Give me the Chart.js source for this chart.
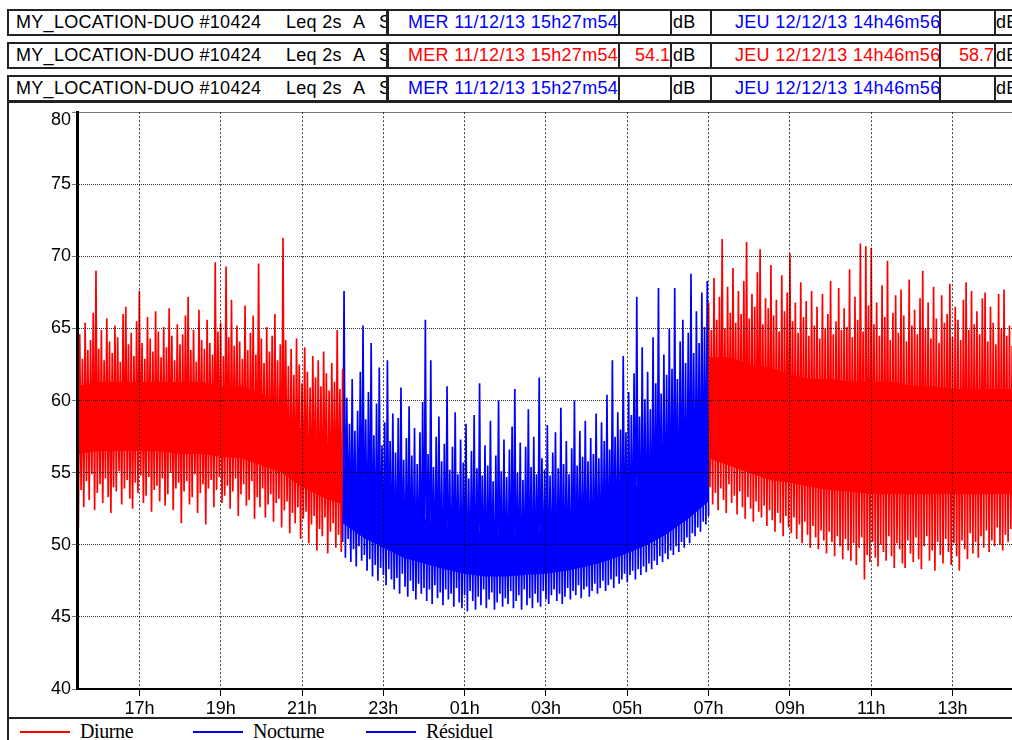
<!DOCTYPE html>
<html><head><meta charset="utf-8">
<script src="https://cdn.jsdelivr.net/npm/chart.js@4.4.1/dist/chart.umd.min.js"></script>
<style>
html,body{margin:0;padding:0;width:1012px;height:740px;overflow:hidden;background:#fff;}
#wrap{position:relative;width:1012px;height:740px;overflow:hidden;font-family:"Liberation Sans",Arial,sans-serif;color:#000;}
.row{position:absolute;left:7px;width:1030px;height:23px;border:2px solid #222;background:#fff;}
.cell{position:absolute;top:0;height:23px;overflow:hidden;white-space:nowrap;font-size:18px;line-height:23px;letter-spacing:0.3px;}
.cell span{position:absolute;top:0;}
.sep{position:absolute;top:0;height:23px;width:2px;background:#222;}
.blue{color:#0000ff}.red{color:#ff0000}
.val{text-align:right;letter-spacing:0;}
#frameL{position:absolute;left:7px;top:101px;width:2px;height:640px;background:#222;}
#frameT{position:absolute;left:7px;top:101px;width:1010px;height:2px;background:#222;}
#legend{position:absolute;left:7px;top:717px;width:1010px;height:25px;border-top:2px solid #222;}
.lg-line{position:absolute;top:731px;height:2px;width:50px;}
.lg-txt{position:absolute;top:721px;font-family:"Liberation Serif","Times New Roman",serif;font-size:20px;line-height:20px;letter-spacing:-0.4px;white-space:nowrap;}
canvas{position:absolute;left:0;top:95px;}
</style></head>
<body><div id="wrap">
<div id="hdr"></div>
<div id="frameL"></div><div id="frameT"></div>
<div id="legend"></div>
<div id="lgItems"></div>
<canvas id="c" width="1040" height="625"></canvas>
</div>
<script>
// ---------- data ----------
const stationName = "MY_LOCATION-DUO #10424";
const indicator = ["Leq 2s", "A", "S"];
const startLabel = "MER 11/12/13 15h27m54";
const endLabel = "JEU 12/12/13 14h46m56";
const headerRows = ["blue", "red", "blue"];
const headerValues = [["", ""], ["54.1", "58.7"], ["", ""]];
const seriesNames = ["Diurne", "Nocturne", "Résiduel"];
const seriesColors = ["#ff0000", "#0000ff", "#0000ff"];

const tStart = 15.465;    // 15h27m54
const tEnd = 38.782;      // 14h46m56 next day
const sampleStep = 2 / 60; // hours between plotted samples
const soirStart = 15.465, nuitStart = 22.0, matinStart = 31.0;

const xTickHours = [17, 19, 21, 23, 25, 27, 29, 31, 33, 35, 37];
const xTickLabels = ["17h", "19h", "21h", "23h", "01h", "03h", "05h", "07h", "09h", "11h", "13h"];
const yTickValues = [40, 45, 50, 55, 60, 65, 70, 75, 80];

// Diurne, evening: peaks and troughs (dB), alternating samples
const soirMax = [63.8,64.6,62.9,65.4,63.5,64.2,66.1,69.0,63.6,64.9, 62.8,65.7,64.1,63.3,65.2,64.4,62.7,66.0,66.5,63.9,
 64.7,63.1,65.5,67.6,64.0,62.9,65.8,64.3,63.4,66.2, 64.8,63.0,65.1,63.7,66.4,64.5,62.8,65.3,63.9,64.6,
 65.9,67.2,63.5,64.9,62.7,66.3,64.2,63.6,65.6,64.0, 63.2,69.6,64.8,65.4,63.1,69.3,64.4,67.0,63.8,65.2,
 64.1,62.9,66.6,63.5,64.7,65.9,63.2,69.5,64.3,62.6, 65.1,63.4,64.5,66.0,62.8,63.9,71.3,64.2,62.4,63.6,
 61.8,64.3,62.5,61.2,63.7,62.0,60.9,63.1,61.6,62.8, 61.0,63.4,61.9,60.7,62.6,61.3,64.9,60.8,62.2];
const soirMin = [51.2,53.8,52.6,54.4,53.1,54.9,52.4,53.6,54.2,52.9, 54.6,53.3,52.2,54.0,53.7,55.1,52.8,53.9,54.5,53.2,
 52.5,54.3,53.6,54.8,52.9,53.4,54.7,52.3,53.8,54.1, 53.0,54.6,52.7,53.5,55.0,52.4,53.9,54.3,51.5,53.7,
 54.4,52.8,53.3,54.9,52.2,53.6,54.2,51.4,53.9,54.5, 52.6,53.8,54.7,52.9,53.4,54.1,52.5,53.7,54.6,52.0,
 53.5,54.2,52.7,53.1,54.4,51.8,53.3,52.6,53.9,51.9, 52.8,53.5,51.6,52.9,53.2,51.2,52.4,53.0,50.8,52.2,
 51.5,52.6,50.4,51.8,52.3,50.1,51.4,52.0,49.6,51.1, 50.6,51.9,49.4,50.9,51.5,49.8,50.7,49.5];
// Nocturne: troughs and peaks (dB), alternating samples
const nuitMin = [50.2,49.1,50.4,48.8,49.7,48.5,49.9,48.9,49.3,48.2, 49.0,47.8,48.6,47.5,48.4,47.9,47.2,48.3,47.6,46.9,
 47.7,46.6,48.0,47.1,46.4,47.5,46.8,46.2,47.3,46.6, 47.0,46.1,46.9,45.9,47.2,46.3,46.7,45.8,46.9,46.2,
 46.6,45.7,47.0,46.0,45.6,46.5,45.4,46.8,46.1,45.5, 46.4,45.8,46.9,45.6,46.2,46.7,45.5,46.0,46.6,45.7,
 46.3,45.9,46.8,45.6,46.1,46.5,45.5,46.9,45.8,46.3, 45.6,46.6,46.0,45.7,46.8,46.2,45.9,46.5,46.9,46.1,
 46.6,45.9,46.4,47.0,46.2,46.8,46.5,47.2,46.3,46.9, 47.1,46.4,46.8,47.3,46.6,47.0,47.5,46.8,47.2,47.6,
 47.0,47.8,47.3,47.6,48.0,47.4,47.9,48.2,47.6,48.3, 47.9,48.5,48.1,48.7,48.3,48.9,48.6,49.2,48.8,49.4,
 49.0,49.6,49.3,49.9,49.5,50.2,49.8,50.5,50.1,50.8, 50.6,51.2,50.9,51.6,51.4,52.0];
const nuitMax = [67.6,60.2,58.4,61.5,57.9,59.3,62.0,65.2,58.7,60.6, 64.0,57.6,59.8,62.3,56.9,58.5,62.8,57.2,59.1,56.4,
 58.8,60.9,55.9,57.4,59.6,56.2,58.1,55.6,57.8,59.9, 65.6,56.3,62.8,55.4,57.5,58.9,55.8,57.0,61.0,55.2,
 56.8,59.2,54.9,57.3,55.7,58.4,54.6,56.5,59.0,55.3, 61.2,54.8,56.9,55.5,58.6,54.4,56.2,60.0,55.1,57.3,
 54.7,56.6,58.2,60.8,55.0,57.1,54.5,56.8,59.4,55.4, 57.5,54.9,61.6,56.0,55.2,58.3,54.8,56.4,57.8,55.3,
 59.5,55.6,57.2,54.9,56.7,60.0,55.5,57.9,56.1,58.6, 55.8,57.4,56.3,59.1,56.0,58.5,57.2,60.4,56.6,62.8,
 57.5,59.2,58.0,63.1,57.8,60.6,59.0,61.9,67.2,58.9, 63.7,60.1,62.0,59.4,64.4,61.2,67.8,60.5,63.2,61.8,
 65.0,62.2,67.8,61.5,64.1,65.6,62.6,64.7,68.8,63.3, 66.2,64.0,67.5,65.1,68.3];
// Diurne, morning: peaks and troughs (dB), alternating samples
const matinMax = [66.8,64.9,68.5,65.6,67.2,71.2,65.0,67.9,66.1,69.2, 65.4,67.6,66.0,68.3,71.0,65.7,67.4,66.5,68.9,70.5,
 65.3,67.1,66.4,69.4,65.9,67.0,64.8,68.7,66.2,67.5, 70.2,65.5,66.8,64.7,68.2,65.8,66.9,64.5,67.6,65.2,
 66.5,64.3,67.4,65.0,66.0,68.3,64.6,65.5,67.8,64.9, 66.4,65.1,69.1,64.4,67.2,65.6,70.9,64.8,70.7,66.6,
 70.6,65.3,66.8,64.5,68.0,65.8,69.7,64.2,66.1,67.3, 64.7,67.7,65.9,64.1,68.4,65.2,66.3,64.6,67.1,69.0,
 65.0,66.8,64.3,67.9,65.7,64.0,67.3,65.4,66.0,68.1, 64.4,66.5,65.6,64.2,67.0,68.2,64.9,67.6,65.3,66.2,
 64.6,67.1,67.5,64.1,66.5,65.4,63.9,67.4,65.0,67.7, 64.5,65.2,63.8,64.8,66.0,65.5,64.9];
const matinMin = [54.0,52.8,53.6,52.4,53.9,53.1,52.2,54.2,52.9,53.4, 52.1,53.7,52.6,51.8,53.3,52.5,51.6,53.0,52.3,51.9,
 52.7,51.3,52.4,51.7,50.9,52.2,51.5,50.6,52.0,51.2, 50.8,51.9,50.4,51.4,50.1,51.6,50.7,49.8,51.3,50.5,
 49.7,51.0,50.3,49.4,50.9,50.2,49.2,50.6,49.9,49.0, 50.4,49.6,48.9,50.1,48.6,49.8,50.5,47.6,49.3,48.8,
 50.2,49.1,48.5,50.0,49.5,48.9,50.6,49.2,48.4,50.1, 49.7,48.7,48.4,50.3,49.4,48.8,50.5,49.0,48.3,49.9,
 50.6,48.9,49.6,48.2,50.2,49.3,48.7,50.4,49.5,48.6, 50.1,49.2,48.2,50.3,49.7,49.0,50.8,49.4,50.2,49.1,
 50.6,49.8,51.0,49.5,50.3,49.9,51.2,50.0,49.6,50.7, 50.2,51.1,49.8,50.5,51.0,50.3,50.8];

// dense middle of each band (where the samples overlap into a solid area)
const coreSoirTimes = [15.465,16,16.5,17,17.5,18,18.5,19,19.5,20,20.5,21,21.5,22];
const coreSoirHigh  = [61,61.3,61.3,61.3,61.3,61.3,61.3,61,61,60.5,59.5,58,57,56.5];
const coreSoirLow   = [56.3,56.5,56.5,56.5,56.5,56.3,56.3,56.1,56,55.5,55,54,53.3,52.8];
const coreNuitTimes = [22,22.5,23,23.5,24,24.5,25,25.5,26,26.5,27,27.5,28,28.5,29,29.5,30,30.5,31];
const coreNuitHigh  = [55.5,54.5,53.5,52.5,51.8,51.3,51,50.8,50.8,50.8,51,51.3,51.8,52.5,53.5,54.8,56.5,58.5,60.5];
const coreNuitLow   = [51.5,50.5,49.8,49.1,48.7,48.3,48,47.8,47.8,47.9,48,48.2,48.5,48.9,49.4,50,50.8,51.8,53];
const coreMatinTimes = [31,31.5,32,32.5,33,33.5,34,34.5,35,35.5,36,36.5,37,37.5,38,38.5,38.8];
const coreMatinHigh  = [63,63,62.5,62.3,61.8,61.5,61.5,61.3,61.3,61.3,61,61,60.8,60.8,60.8,60.8,60.8];
const coreMatinLow   = [56,55.5,55,54.5,54.3,54,53.8,53.7,53.5,53.5,53.5,53.5,53.5,53.5,53.5,53.5,53.5];

// ---------- header / legend (HTML text) ----------
const hdr = document.getElementById('hdr');
const rowTops = [9, 42, 75];
headerRows.forEach((col, r) => {
  const row = document.createElement('div');
  row.className = 'row';
  row.style.top = rowTops[r] + 'px';
  const X = v => (v - 9) + 'px';
  row.innerHTML =
    `<div class="cell" style="left:0;width:${386-9}px">` +
      `<span style="left:${16-9}px">${stationName}</span>` +
      `<span style="left:${286-9}px">${indicator[0]}</span>` +
      `<span style="left:${353-9}px">${indicator[1]}</span>` +
      `<span style="left:${379-9}px">${indicator[2]}</span></div>` +
    `<div class="sep" style="left:${X(386)};width:3px"></div>` +
    `<div class="cell ${col}" style="left:${X(389)};width:229px"><span style="left:19px">${startLabel}</span></div>` +
    `<div class="sep" style="left:${X(618)}"></div>` +
    `<div class="cell ${col} val" style="left:${X(620)};width:50px">${headerValues[r][0]}</div>` +
    `<div class="sep" style="left:${X(670)}"></div>` +
    `<div class="cell" style="left:${X(673)};width:36px">dB</div>` +
    `<div class="sep" style="left:${X(710)}"></div>` +
    `<div class="cell ${col}" style="left:${X(712)};width:227px"><span style="left:23px">${endLabel}</span></div>` +
    `<div class="sep" style="left:${X(939)}"></div>` +
    `<div class="cell ${col} val" style="left:${X(941)};width:53px">${headerValues[r][1]}</div>` +
    `<div class="sep" style="left:${X(994)}"></div>` +
    `<div class="cell" style="left:${X(996)};width:40px">dB</div>`;
  hdr.appendChild(row);
});
const lg = document.getElementById('lgItems');
const lgX = [20, 193, 366];
seriesNames.forEach((n, i) => {
  lg.innerHTML += `<div class="lg-line" style="left:${lgX[i]}px;background:${seriesColors[i]}"></div>` +
                  `<div class="lg-txt" style="left:${lgX[i] + 60}px">${n}</div>`;
});

// ---------- chart ----------
// samples alternate between the two lists: a[0], b[0], a[1], b[1], ...
function alternate(start, a, b) {
  const pts = [];
  const n = Math.max(a.length, b.length);
  for (let i = 0; i < n; i++) {
    if (i < a.length) pts.push({x: start + 2 * i * sampleStep, y: a[i]});
    if (i < b.length) pts.push({x: start + (2 * i + 1) * sampleStep, y: b[i]});
  }
  return pts;
}
const zip = (ts, vs) => ts.map((t, i) => ({x: t, y: vs[i]}));

const diurnePts = alternate(soirStart, soirMax, soirMin).concat([{x: 26.5, y: null}], alternate(matinStart, matinMax, matinMin));
const nocturnePts = alternate(nuitStart, nuitMin, nuitMax);

const lineBase = {borderWidth: 1.7, pointRadius: 0, tension: 0, borderJoinStyle: 'bevel', fill: false, spanGaps: false};
const coreHi = (ts, vs, c) => ({data: zip(ts, vs), borderWidth: 0, pointRadius: 0, backgroundColor: c, borderColor: c, fill: '+1', tension: 0});
const coreLo = (ts, vs, c) => ({data: zip(ts, vs), borderWidth: 0, pointRadius: 0, backgroundColor: c, borderColor: c, fill: false, tension: 0});

const FONT = {family: '"Liberation Sans", Arial, sans-serif', size: 18};

new Chart(document.getElementById('c'), {
  type: 'line',
  data: {
    datasets: [
      {label: seriesNames[0], data: diurnePts, borderColor: seriesColors[0], backgroundColor: seriesColors[0], ...lineBase},
      {label: seriesNames[1], data: nocturnePts, borderColor: seriesColors[1], backgroundColor: seriesColors[1], ...lineBase},
      {label: seriesNames[2], data: [], borderColor: seriesColors[2], backgroundColor: seriesColors[2], ...lineBase},
      coreHi(coreSoirTimes, coreSoirHigh, seriesColors[0]),
      coreLo(coreSoirTimes, coreSoirLow, seriesColors[0]),
      coreHi(coreNuitTimes, coreNuitHigh, seriesColors[1]),
      coreLo(coreNuitTimes, coreNuitLow, seriesColors[1]),
      coreHi(coreMatinTimes, coreMatinHigh, seriesColors[0]),
      coreLo(coreMatinTimes, coreMatinLow, seriesColors[0])
    ]
  },
  options: {
    responsive: false, animation: false, devicePixelRatio: 1, events: [],
    layout: {padding: {top: 12, right: 15, left: 0, bottom: 0}},
    plugins: {legend: {display: false}, tooltip: {enabled: false}},
    scales: {
      x: {
        type: 'linear', min: tStart, max: tEnd,
        afterFit: s => { s.height = 31; },
        afterBuildTicks: s => { s.ticks = xTickHours.map(v => ({value: v})); },
        ticks: {autoSkip: false, maxRotation: 0, padding: 2, color: '#000', font: FONT,
                callback: (v, i) => xTickLabels[i]},
        grid: {color: 'rgba(0,0,0,0.75)', lineWidth: 1, tickLength: 7, tickColor: '#000', tickWidth: 1, z: 1},
        border: {color: '#000', width: 2, dash: [2, 2], z: 1}
      },
      y: {
        min: 40, max: 80,
        afterFit: s => { s.width = 77; },
        afterBuildTicks: s => { s.ticks = yTickValues.map(v => ({value: v})); },
        ticks: {padding: 1, color: '#000', font: {...FONT, lineHeight: 0.9},
                callback: v => v === 80 ? ['', '80'] : String(v)},
        grid: {color: ctx => (ctx.tick && ctx.tick.value === 80) ? 'rgba(0,0,0,0.55)' : 'rgba(0,0,0,0.8)',
               lineWidth: 1, tickLength: 5, tickColor: '#777', tickWidth: 1, z: 1},
        border: {color: '#000', width: 3, dash: ctx => (ctx.tick && ctx.tick.value === 80) ? [] : [1, 1], z: 1}
      }
    }
  }
});
</script>
</body></html>
